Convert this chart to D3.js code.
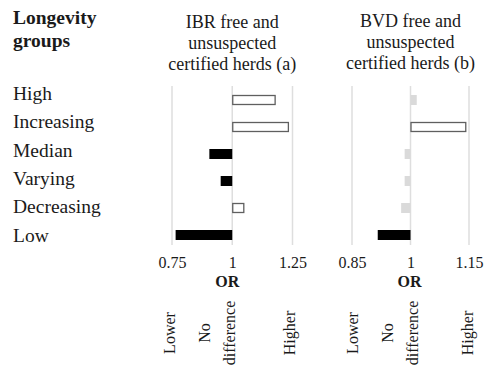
<!DOCTYPE html>
<html>
<head>
<meta charset="utf-8">
<script src="https://cdn.jsdelivr.net/npm/d3@7/dist/d3.min.js"></script>
<style>
  html, body { margin: 0; padding: 0; background: #fff; }
  svg { display: block; font-family: "Liberation Serif", "Times New Roman", serif; }
</style>
</head>
<body>
<svg id="chart" width="485" height="365"></svg>
<script>
// Longevity groups, top to bottom
const categories = ["High", "Increasing", "Median", "Varying", "Decreasing", "Low"];

// Odds ratios, IBR free and unsuspected certified herds
const ibrOR = [1.18, 1.235, 0.905, 0.952, 1.05, 0.765];
const ibrSignificant = [true, true, true, true, true, true];

// Odds ratios, BVD free and unsuspected certified herds
const bvdOR = [1.016, 1.143, 0.985, 0.985, 0.976, 0.916];
const bvdSignificant = [false, true, false, false, false, true];

// Axis ticks
const ibrTicks = [0.75, 1, 1.25];
const bvdTicks = [0.85, 1, 1.15];
const ibrTickLabels = ["0.75", "1", "1.25"];
const bvdTickLabels = ["0.85", "1", "1.15"];

const svg = d3.select("#chart");
const ink = "#1a1a1a";
const serif = "Liberation Serif, Times New Roman, serif";

// Group names down the left side
svg.append("text").attr("x", 13).attr("y", 23.5)
  .attr("font-size", 19.5).attr("font-weight", "bold").attr("fill", ink).text("Longevity");
svg.append("text").attr("x", 13).attr("y", 47)
  .attr("font-size", 19.5).attr("font-weight", "bold").attr("fill", ink).text("groups");

const labelY = d3.scalePoint().domain(categories).range([100, 241.7]);
svg.append("g").selectAll("text").data(categories).join("text")
  .attr("x", 13).attr("y", d => labelY(d))
  .attr("font-size", 19.5).attr("fill", ink).text(d => d);

// Rows shared by both panels
const y = d3.scaleBand().domain(categories).range([86.5, 248.5]).paddingInner(0.63).paddingOuter(0.315);

const panels = [
  { title: ["IBR free and", "unsuspected", "certified herds (a)"], titleY: 28.3,
    values: ibrOR, sig: ibrSignificant, domain: [0.75, 1.25], range: [172, 292.5],
    ticks: ibrTicks, tickLabels: ibrTickLabels, orDx: -5,
    notes: { lower: 175, no: 210, higher: 295 } },
  { title: ["BVD free and", "unsuspected", "certified herds (b)"], titleY: 26.7,
    values: bvdOR, sig: bvdSignificant, domain: [0.85, 1.15], range: [352, 469],
    ticks: bvdTicks, tickLabels: bvdTickLabels, orDx: -1,
    notes: { lower: 358, no: 393, higher: 473 } }
];

panels.forEach(p => {
  const x = d3.scaleLinear().domain(p.domain).range(p.range);
  const g = svg.append("g");

  // Title, centred over OR = 1
  const t = g.append("text").attr("x", x(1)).attr("y", p.titleY)
    .attr("text-anchor", "middle").attr("font-size", 18).attr("fill", ink);
  p.title.forEach((line, i) => {
    t.append("tspan").attr("x", x(1)).attr("dy", i === 0 ? 0 : 21).text(line);
  });

  // Vertical gridlines
  g.append("g").selectAll("line").data(p.ticks).join("line")
    .attr("x1", d => x(d)).attr("x2", d => x(d))
    .attr("y1", 86).attr("y2", 245)
    .attr("stroke", "#dedede").attr("stroke-width", 1.5);

  // Bars from OR = 1: white = significantly higher, black = significantly lower, grey = no difference
  const rows = categories.map((c, i) => ({ c, v: p.values[i], s: p.sig[i] }));
  const outlined = d => d.s && d.v > 1;
  g.append("g").selectAll("rect").data(rows).join("rect")
    .attr("x", d => Math.min(x(1), x(d.v)) + (outlined(d) ? 0.5 : 0))
    .attr("y", d => y(d.c) + (outlined(d) ? 0.5 : 0))
    .attr("width", d => Math.abs(x(d.v) - x(1)) - (outlined(d) ? 1 : 0))
    .attr("height", d => y.bandwidth() - (outlined(d) ? 1 : 0))
    .attr("fill", d => !d.s ? "#dadada" : (d.v > 1 ? "#fff" : "#000"))
    .attr("stroke", d => outlined(d) ? "#5f5f5f" : "none")
    .attr("stroke-width", 1.3);

  // Axis tick labels
  const axis = d3.axisBottom(x).tickValues(p.ticks)
    .tickFormat((d, i) => p.tickLabels[i]).tickSize(0).tickPadding(0);
  const ax = g.append("g").attr("transform", "translate(0,257)").call(axis);
  ax.attr("font-family", serif);
  ax.select(".domain").remove();
  ax.selectAll("text").attr("font-family", serif)
    .attr("font-size", 16).attr("fill", ink);

  // Axis title
  g.append("text").attr("x", x(1) + p.orDx).attr("y", 287)
    .attr("text-anchor", "middle").attr("font-size", 16).attr("font-weight", "bold")
    .attr("fill", ink).text("OR");

  // Direction notes, reading upwards
  const note = (bx, lines, lh) => {
    const tx = g.append("text").attr("transform", `translate(${bx},333) rotate(-90)`)
      .attr("text-anchor", "middle").attr("font-size", 16).attr("fill", ink);
    lines.forEach((l, i) => {
      tx.append("tspan").attr("x", 0).attr("y", (i - (lines.length - 1)) * lh).text(l);
    });
  };
  note(p.notes.lower, ["Lower"], 25);
  note(p.notes.no + 25, ["No", "difference"], 25);
  note(p.notes.higher, ["Higher"], 25);
});
</script>
</body>
</html>
